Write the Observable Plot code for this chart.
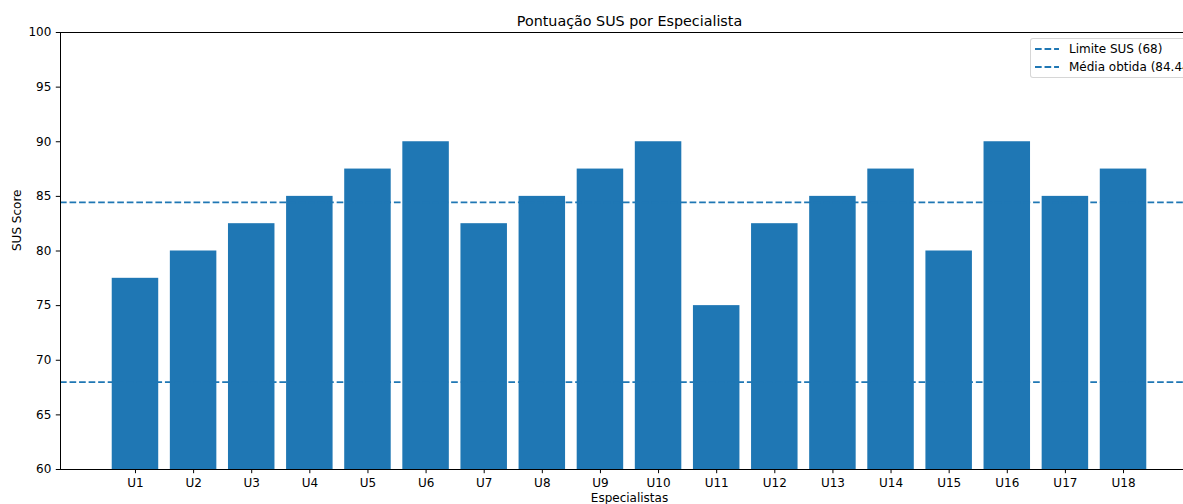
<!DOCTYPE html>
<html>
<head>
<meta charset="utf-8">
<script src="https://cdn.jsdelivr.net/npm/d3@7"></script>
<script src="https://cdn.jsdelivr.net/npm/@observablehq/plot@0.6"></script>
<style>
  html, body { margin: 0; padding: 0; overflow: hidden; background: white; }
  #wrap { position: relative; width: 1183px; height: 504px; font-family: "DejaVu Sans", sans-serif; }
  #legend { position: absolute; left: 1030px; top: 38px; width: 170px; height: 38px;
    border: 1px solid rgba(204,204,204,0.8); border-radius: 3px; background: rgba(255,255,255,0.8);
    font-size: 12px; color: #000; }
  .row { position: absolute; left: 0; height: 18px; display: flex; align-items: center; white-space: nowrap; }
  .row svg { margin-left: 4px; margin-right: 10px; }
</style>
</head>
<body>
<div id="wrap"></div>
<script>
const specialists = ["U1","U2","U3","U4","U5","U6","U7","U8","U9","U10","U11","U12","U13","U14","U15","U16","U17","U18"];
const scores = [77.5, 80, 82.5, 85, 87.5, 90, 82.5, 85, 87.5, 90, 75, 82.5, 85, 87.5, 80, 90, 85, 87.5];
const susLimit = 68;
const yTicks = [60, 65, 70, 75, 80, 85, 90, 95, 100];
const titleText = "Pontuação SUS por Especialista";
const xLabel = "Especialistas";
const yLabel = "SUS Score";

const mean = d3.mean(scores);
const legendLabels = [`Limite SUS (${susLimit})`, `Média obtida (${mean.toFixed(2)})`];
const data = specialists.map((name, i) => ({name, score: scores[i]}));
const blue = "#1f77b4";
const font = "DejaVu Sans";
const dash = "6.66,2.88";

const chart = Plot.plot({
  width: 1183,
  height: 504,
  marginLeft: 60,
  marginRight: -15,
  marginTop: 32,
  marginBottom: 35,
  style: {fontFamily: font, fontSize: "12px", color: "black", background: "white"},
  x: {type: "band", domain: specialists, paddingInner: 0.2, paddingOuter: 0.89, align: 0.5, round: false},
  y: {domain: [60, 100]},
  marks: [
    Plot.barY(data, {x: "name", y: "score", fill: blue, clip: true}),
    Plot.ruleY([susLimit, mean], {stroke: blue, strokeWidth: 1.8, strokeDasharray: dash}),
    Plot.frame({stroke: "black", strokeWidth: 1}),
    Plot.axisY({ticks: yTicks, tickSize: 4.2, tickPadding: 5, label: null, fontSize: 12, stroke: "black", strokeWidth: 1}),
    Plot.axisX({tickSize: 4.2, tickPadding: 5, label: null, fontSize: 12, stroke: "black", strokeWidth: 1}),
    Plot.text([titleText], {frameAnchor: "top", dy: -11, lineAnchor: "middle", fontSize: 14.3, fill: "black", text: d => d}),
    Plot.text([xLabel], {frameAnchor: "bottom", dy: 29, lineAnchor: "middle", fontSize: 12, fill: "black", text: d => d}),
    Plot.text([yLabel], {frameAnchor: "left", dx: -43, rotate: -90, lineAnchor: "middle", fontSize: 12, fill: "black", text: d => d})
  ]
});

const wrap = document.getElementById("wrap");
wrap.appendChild(chart);

const legend = document.createElement("div");
legend.id = "legend";
legendLabels.forEach((lab, i) => {
  const row = document.createElement("div");
  row.className = "row";
  row.style.top = (1 + i * 18) + "px";
  row.innerHTML = `<svg width="24" height="6"><line x1="0" y1="3" x2="24" y2="3" stroke="${blue}" stroke-width="1.8" stroke-dasharray="${dash}"/></svg><span>${lab}</span>`;
  legend.appendChild(row);
});
wrap.appendChild(legend);
</script>
</body>
</html>
